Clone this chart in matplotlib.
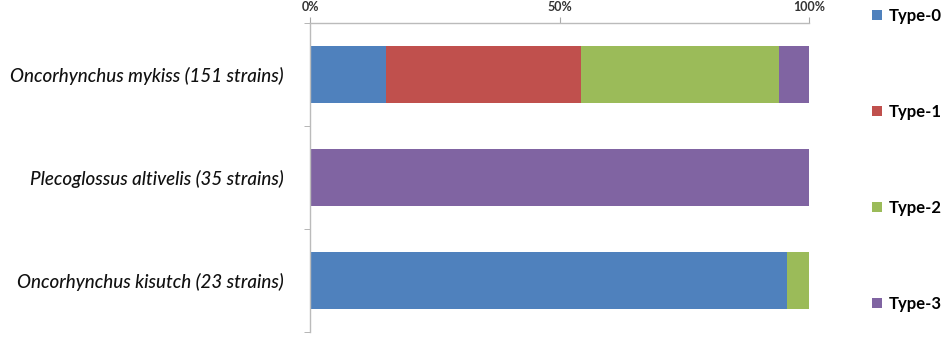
import matplotlib
matplotlib.use("Agg")
import matplotlib.pyplot as plt
import numpy as np

categories = ["Oncorhynchus mykiss (151 strains)",
              "Plecoglossus altivelis (35 strains)",
              "Oncorhynchus kisutch (23 strains)"]
series_names = ["Type-0", "Type-1", "Type-2", "Type-3"]
type0 = [23, 0, 22]
type1 = [59, 0, 0]
type2 = [60, 0, 1]
type3 = [9, 35, 0]
tick_labels = ["0%", "50%", "100%"]
colors = ["#4F81BD", "#C0504D", "#9BBB59", "#8064A2"]

data = np.array([type0, type1, type2, type3], dtype=float)
pct = data / data.sum(axis=0) * 100

fig = plt.figure(figsize=(9.5, 3.4), dpi=100)
ax = fig.add_axes([310/950, 1 - 332/340, (809-310)/950, (332-23)/340])

y = np.arange(len(categories))
left = np.zeros(len(categories))
handles = []
for i, name in enumerate(series_names):
    h = ax.barh(y, pct[i], left=left, height=0.55, color=colors[i], label=name)
    handles.append(h)
    left += pct[i]

ax.set_xlim(0, 100)
ax.set_ylim(len(categories) - 0.5, -0.5)
ax.xaxis.tick_top()
ax.set_xticks([0, 50, 100])
ax.set_xticklabels(tick_labels, fontsize=9, fontweight="bold", color="#333333",
                   family="Lato")
ax.tick_params(axis="x", length=4, color="#AAAAAA", pad=3)

ax.set_yticks(y)
ax.set_yticklabels(categories, fontsize=13.5, fontstyle="italic", family="Lato",
                   fontweight="medium", color="#111111")
ax.tick_params(axis="y", length=0, pad=19)
ax.set_yticks(np.arange(-0.5, len(categories)), minor=True)
ax.tick_params(axis="y", which="minor", length=4, color="#AAAAAA")

for s in ["right", "bottom"]:
    ax.spines[s].set_visible(False)
for s in ["left", "top"]:
    ax.spines[s].set_color("#BBBBBB")
    ax.spines[s].set_linewidth(1)

leg = fig.legend(handles=handles, labels=series_names, loc="upper left",
                 bbox_to_anchor=(857/950, 1.0 + 7/340), frameon=False,
                 prop={"weight": "bold", "size": 12, "family": "Lato"},
                 handlelength=0.6, handleheight=0.6, handletextpad=0.4,
                 labelspacing=4.8)

fig.savefig("out.png", dpi=100)
